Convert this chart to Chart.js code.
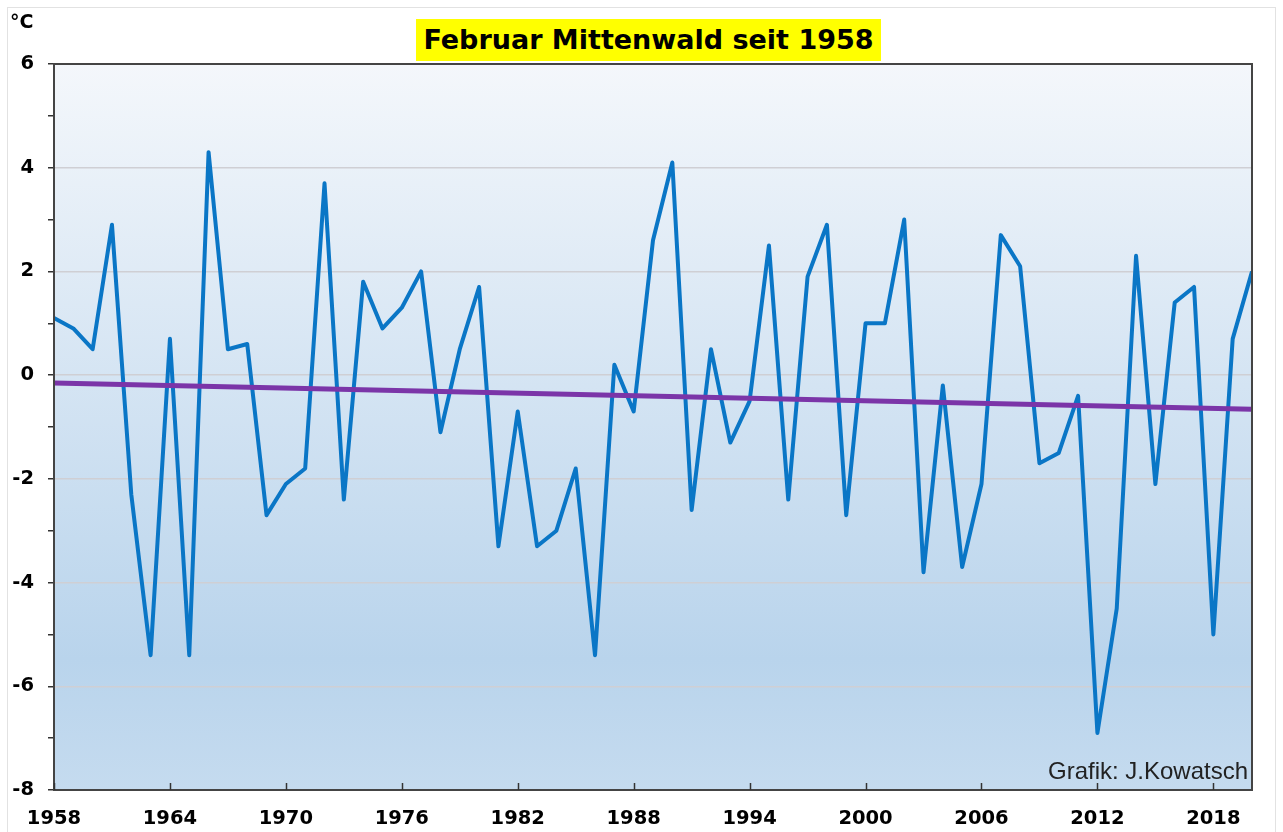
<!DOCTYPE html>
<html>
<head>
<meta charset="utf-8">
<script src="https://cdn.jsdelivr.net/npm/chart.js@4"></script>
<style>
  html, body { margin: 0; padding: 0; background: #fff; }
  #wrap { position: relative; width: 1283px; height: 832px; }
  #title {
    position: absolute; left: 416px; top: 19px; width: 465px; height: 42px;
    background: #ffff00; color: #000; font: bold 27px "DejaVu Sans", sans-serif;
    line-height: 42px; text-align: center; white-space: nowrap;
  }
  #unit {
    position: absolute; left: 10px; top: 10px; line-height: 1;
    font: bold 19px "DejaVu Sans", sans-serif; color: #000;
  }
  #credit {
    position: absolute; left: 1048px; top: 757px; line-height: 1;
    font: 24px "Liberation Sans", Arial, sans-serif; color: #222;
  }
</style>
</head>
<body>
<div id="wrap">
  <canvas id="chart-temp"></canvas>
  <div id="title">Februar Mittenwald seit 1958</div>
  <div id="unit">°C</div>
  <div id="credit">Grafik: J.Kowatsch</div>
</div>
<script>
// February mean temperature, Mittenwald
const years = [
  1958, 1959, 1960, 1961, 1962, 1963, 1964, 1965, 1966, 1967,
  1968, 1969, 1970, 1971, 1972, 1973, 1974, 1975, 1976, 1977,
  1978, 1979, 1980, 1981, 1982, 1983, 1984, 1985, 1986, 1987,
  1988, 1989, 1990, 1991, 1992, 1993, 1994, 1995, 1996, 1997,
  1998, 1999, 2000, 2001, 2002, 2003, 2004, 2005, 2006, 2007,
  2008, 2009, 2010, 2011, 2012, 2013, 2014, 2015, 2016, 2017,
  2018, 2019, 2020,
];
const temps = [
  1.1, 0.9, 0.5, 2.9, -2.3, -5.4, 0.7, -5.4, 4.3, 0.5,
  0.6, -2.7, -2.1, -1.8, 3.7, -2.4, 1.8, 0.9, 1.3, 2.0,
  -1.1, 0.5, 1.7, -3.3, -0.7, -3.3, -3.0, -1.8, -5.4, 0.2,
  -0.7, 2.6, 4.1, -2.6, 0.5, -1.3, -0.5, 2.5, -2.4, 1.9,
  2.9, -2.7, 1.0, 1.0, 3.0, -3.8, -0.2, -3.7, -2.1, 2.7,
  2.1, -1.7, -1.5, -0.4, -6.9, -4.5, 2.3, -2.1, 1.4, 1.7,
  -5.0, 0.7, 2.0,
];
// trend line end points
const trendYears = [1958, 2020];
const trendValues = [-0.15, -0.66];
// axis labels
const xTickYears = [1958, 1964, 1970, 1976, 1982, 1988, 1994, 2000, 2006, 2012, 2018];

const tickFont = { size: 19.5, weight: "bold", family: "'DejaVu Sans', sans-serif" };

// gradient background + frame + inward x ticks
const plotDecor = {
  id: "plotDecor",
  beforeDraw(chart) {
    const { ctx, chartArea: a } = chart;
    const g = ctx.createLinearGradient(0, a.top, 0, a.bottom);
    g.addColorStop(0, "#f4f7fb");
    g.addColorStop(0.82, "#b9d4ec");
    g.addColorStop(1, "#c5dbef");
    ctx.save();
    ctx.fillStyle = g;
    ctx.fillRect(a.left, a.top, a.right - a.left, a.bottom - a.top);
    ctx.restore();
  },
  afterDraw(chart) {
    const { ctx, chartArea: a } = chart;
    const xs = chart.scales.x;
    ctx.save();
    ctx.strokeStyle = "#444";
    ctx.lineWidth = 2;
    ctx.strokeRect(a.left, a.top, a.right - a.left, a.bottom - a.top);
    ctx.lineWidth = 1.5;
    ctx.strokeStyle = "#333";
    for (const t of xs.ticks) {
      const px = Math.round(xs.getPixelForValue(t.value)) + 0.5;
      ctx.beginPath();
      ctx.moveTo(px, a.bottom - 7);
      ctx.lineTo(px, a.bottom);
      ctx.stroke();
    }
    // outer light border
    ctx.strokeStyle = "#e2e2e2";
    ctx.lineWidth = 1;
    ctx.strokeRect(7.5, 7.5, 1268, 830);
    ctx.restore();
  },
};

var ctx = document.getElementById("chart-temp").getContext("2d");

new Chart(ctx, {
  type: "line",
  data: {
    datasets: [
      {
        label: "Februar",
        data: years.map((y, i) => ({ x: y, y: temps[i] })),
        borderColor: "#0a76c6",
        borderWidth: 4,
        borderJoinStyle: "round",
        pointRadius: 0,
        tension: 0,
        order: 2,
      },
      {
        label: "Trend",
        data: trendYears.map((y, i) => ({ x: y, y: trendValues[i] })),
        borderColor: "#7b35a8",
        borderWidth: 5,
        pointRadius: 0,
        tension: 0,
        order: 1,
      },
    ],
  },
  options: {
    responsive: true,
    maintainAspectRatio: false,
    animation: false,
    layout: {
      padding: { top: 64, right: 31, left: 0, bottom: 0 },
    },
    plugins: {
      legend: { display: false },
      tooltip: { enabled: false },
    },
    scales: {
      x: {
        type: "linear",
        min: 1958,
        max: 2020,
        afterBuildTicks: (axis) => {
          axis.ticks = xTickYears.map((v) => ({ value: v }));
        },
        afterFit: (scale) => {
          scale.height = 42;
        },
        border: { display: false },
        grid: { display: false, drawTicks: false },
        ticks: {
          autoSkip: false,
          maxRotation: 0,
          padding: 17,
          color: "#000",
          font: tickFont,
          callback: (v) => String(v),
        },
      },
      y: {
        min: -8,
        max: 6,
        afterFit: (scale) => {
          scale.width = 54;
        },
        border: { display: false },
        grid: {
          drawTicks: true,
          tickLength: 6,
          lineWidth: 1.5,
          color: (c) => (c.tick && c.tick.value % 2 === 0 && c.tick.value > -8 && c.tick.value < 6 ? "#cfcfd4" : "transparent"),
          tickColor: "#333",
        },
        ticks: {
          stepSize: 1,
          padding: 14,
          color: "#000",
          font: tickFont,
          callback: (v) => (v % 2 === 0 ? String(v) : ""),
        },
      },
    },
  },
  plugins: [plotDecor],
});
</script>
</body>
</html>
